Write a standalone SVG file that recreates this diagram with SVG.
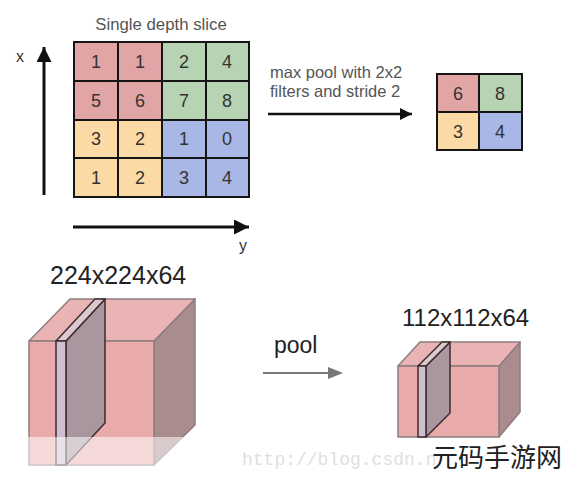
<svg xmlns="http://www.w3.org/2000/svg" width="562" height="478" viewBox="0 0 562 478">
<defs>
<style>
.t{font-family:"Liberation Sans",Arial,sans-serif;}
.cell{stroke:#151515;stroke-width:2;}
.r{fill:#e2a5a6;}.g{fill:#b8d3b4;}.yl{fill:#fbdaa6;}.b{fill:#a9b7e6;}
.num{font-family:"Liberation Sans",Arial,sans-serif;font-size:18px;fill:#333;text-anchor:middle;}
.cap{font-family:"Liberation Sans",Arial,sans-serif;fill:#555;}
.big{font-family:"Liberation Sans",Arial,sans-serif;fill:#222;}
.edge{stroke:#8d7c7e;stroke-width:1.5;stroke-linejoin:round;}
.slab{stroke:#3b2c2e;stroke-width:1.5;stroke-linejoin:round;}
</style>
<marker id="ah" viewBox="0 0 10 10" refX="10" refY="5" markerWidth="16" markerHeight="15" markerUnits="userSpaceOnUse" orient="auto"><path d="M0,0 L10,5 L0,10 Z" fill="#111"/></marker>
<marker id="ah2" viewBox="0 0 10 10" refX="10" refY="5" markerWidth="15" markerHeight="12" markerUnits="userSpaceOnUse" orient="auto"><path d="M0,0 L10,5 L0,10 Z" fill="#111"/></marker>
</defs>
<rect width="562" height="478" fill="#fff"/>

<g id="input-grid">
<text x="161" y="30" class="cap" text-anchor="middle" style="font-size:16.8px">Single depth slice</text>
<rect x="74" y="42" width="44" height="39" class="cell r"/><rect x="118" y="42" width="44" height="39" class="cell r"/>
<rect x="162" y="42" width="44" height="39" class="cell g"/><rect x="206" y="42" width="43" height="39" class="cell g"/>
<rect x="74" y="81" width="44" height="39" class="cell r"/><rect x="118" y="81" width="44" height="39" class="cell r"/>
<rect x="162" y="81" width="44" height="39" class="cell g"/><rect x="206" y="81" width="43" height="39" class="cell g"/>
<rect x="74" y="120" width="44" height="38" class="cell yl"/><rect x="118" y="120" width="44" height="38" class="cell yl"/>
<rect x="162" y="120" width="44" height="38" class="cell b"/><rect x="206" y="120" width="43" height="38" class="cell b"/>
<rect x="74" y="158" width="44" height="39" class="cell yl"/><rect x="118" y="158" width="44" height="39" class="cell yl"/>
<rect x="162" y="158" width="44" height="39" class="cell b"/><rect x="206" y="158" width="43" height="39" class="cell b"/>
<text x="96" y="68" class="num">1</text><text x="140" y="68" class="num">1</text><text x="184" y="68" class="num">2</text><text x="227" y="68" class="num">4</text>
<text x="96" y="107" class="num">5</text><text x="140" y="107" class="num">6</text><text x="184" y="107" class="num">7</text><text x="227" y="107" class="num">8</text>
<text x="96" y="145" class="num">3</text><text x="140" y="145" class="num">2</text><text x="184" y="145" class="num">1</text><text x="227" y="145" class="num">0</text>
<text x="96" y="184" class="num">1</text><text x="140" y="184" class="num">2</text><text x="184" y="184" class="num">3</text><text x="227" y="184" class="num">4</text>
</g>

<g id="output-grid">
<rect x="437" y="74" width="42" height="38" class="cell r"/><rect x="479" y="74" width="43" height="38" class="cell g"/>
<rect x="437" y="112" width="42" height="38" class="cell yl"/><rect x="479" y="112" width="43" height="38" class="cell b"/>
<text x="458" y="100" class="num">6</text><text x="500" y="100" class="num">8</text>
<text x="458" y="138" class="num">3</text><text x="500" y="138" class="num">4</text>
</g>

<g id="axes-labels">
<text x="16" y="62" class="t" style="font-size:16px;fill:#333">x</text>
<text x="239" y="251" class="t" style="font-size:16px;fill:#333">y</text>
<text x="270" y="78" class="cap" style="font-size:16.5px">max pool with 2x2</text>
<text x="270" y="97" class="cap" style="font-size:16.5px">filters and stride 2</text>
</g>

<g id="connectors">
<line x1="44" y1="195" x2="44" y2="47" stroke="#111" stroke-width="3" marker-end="url(#ah)"/>
<line x1="73" y1="227" x2="249" y2="227" stroke="#111" stroke-width="3" marker-end="url(#ah)"/>
<line x1="268" y1="114" x2="412" y2="114" stroke="#111" stroke-width="2.5" marker-end="url(#ah2)"/>
<line x1="263" y1="373" x2="336" y2="373" stroke="#777" stroke-width="2"/>
<path d="M328,367 L343,373 L328,379 Z" fill="#777"/>
</g>

<g id="big-volume">
<text x="50" y="284" class="big" style="font-size:25px">224x224x64</text>
<polygon points="154,341 195,299 195,425 154,465" fill="#aa8b8e" class="edge"/>
<polygon points="29,341 154,341 195,299 70,299" fill="#ebb4b4" class="edge"/>
<rect x="29" y="341" width="125" height="124" fill="#e8aaab" class="edge"/>
<polygon points="66,341 105,299 105,423 66,465" fill="#a9969e" class="slab"/>
<polygon points="56,341 66,341 105,299 95,299" fill="#dcc9cf" class="slab"/>
<rect x="56" y="341" width="10" height="124" fill="#cdbfd0" class="slab"/>
</g>

<g id="pool-label">
<text x="274" y="353" class="t" style="font-size:23px;fill:#222">pool</text>
</g>

<g id="small-volume">
<text x="402" y="326" class="big" style="font-size:24px">112x112x64</text>
<polygon points="499,366 520,342 520,412 499,437" fill="#aa8b8e" class="edge"/>
<polygon points="398,366 499,366 520,342 420,342" fill="#ebb4b4" class="edge"/>
<rect x="398" y="366" width="101" height="71" fill="#e8aaab" class="edge"/>
<polygon points="426,366 450,342 450,413 426,437" fill="#a9969e" class="slab"/>
<polygon points="418,366 426,366 450,342 442,342" fill="#dcc9cf" class="slab"/>
<rect x="418" y="366" width="8" height="71" fill="#cdbfd0" class="slab"/>
</g>

<g id="watermark">
<rect x="0" y="437" width="240" height="41" fill="#fff" opacity="0.55"/>
<text x="242" y="465" style="font-family:'Liberation Mono',monospace;font-size:18px;fill:#e0e0e0">http://blog.csdn.n</text>
<text x="432" y="467" style="font-family:'Noto Sans CJK SC',sans-serif;font-size:26px;fill:#222">元码手游网</text>
</g>
</svg>
